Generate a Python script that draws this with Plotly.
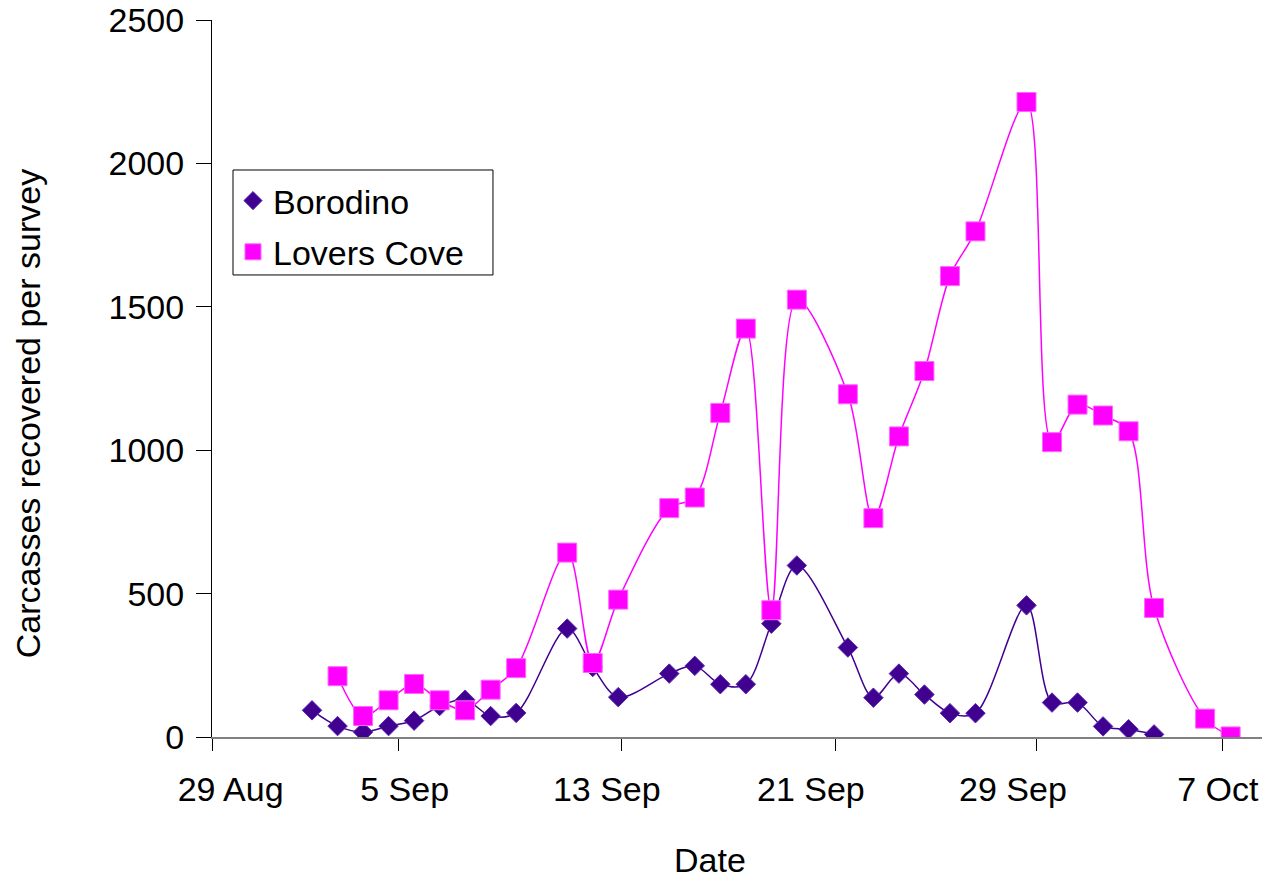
import plotly.graph_objects as go
import pandas as pd

# ---- data ----
borodino_dates = [
    "2004-09-01", "2004-09-02", "2004-09-03", "2004-09-04", "2004-09-05",
    "2004-09-06", "2004-09-07", "2004-09-08", "2004-09-09",
    "2004-09-11", "2004-09-12", "2004-09-13",
    "2004-09-15", "2004-09-16", "2004-09-17", "2004-09-18", "2004-09-19", "2004-09-20",
    "2004-09-22", "2004-09-23", "2004-09-24", "2004-09-25", "2004-09-26", "2004-09-27",
    "2004-09-29", "2004-09-30", "2004-10-01", "2004-10-02", "2004-10-03", "2004-10-04",
]
borodino_values = [
    93, 38, 17, 38, 57, 108, 130, 73, 84,
    378, 244, 139,
    221, 248, 184, 184, 395, 598,
    312, 137, 221, 148, 83, 83,
    459, 120, 120, 37, 27, 9,
]

lovers_dates = [
    "2004-09-02", "2004-09-03", "2004-09-04", "2004-09-05",
    "2004-09-06", "2004-09-07", "2004-09-08", "2004-09-09",
    "2004-09-11", "2004-09-12", "2004-09-13",
    "2004-09-15", "2004-09-16", "2004-09-17", "2004-09-18", "2004-09-19", "2004-09-20",
    "2004-09-22", "2004-09-23", "2004-09-24", "2004-09-25", "2004-09-26", "2004-09-27",
    "2004-09-29", "2004-09-30", "2004-10-01", "2004-10-02", "2004-10-03", "2004-10-04",
    "2004-10-06", "2004-10-07",
]
lovers_values = [
    212, 73, 128, 185, 128, 93, 165, 240,
    643, 258, 479,
    798, 835, 1130, 1424, 442, 1525,
    1195, 763, 1048, 1276, 1607, 1763,
    2214, 1028, 1159, 1121, 1066, 450,
    64, 2,
]

tick_labels = ["29 Aug", "5 Sep", "13 Sep", "21 Sep", "29 Sep", "7 Oct"]
tick_dates = ["2004-08-29", "2004-09-05", "2004-09-13", "2004-09-21", "2004-09-29", "2004-10-07"]
y_ticks = [0, 500, 1000, 1500, 2000, 2500]

# ---- axis layout details (as drawn in the reference) ----
tick_mark_shift = [-0.92, -0.60, 0.14, 0.53, 0.41, -0.30]   # days
tick_label_shift = [-0.19, -0.37, -0.45, -0.45, -0.53, -0.50]  # days


def shifted(dates, shifts):
    return [(pd.Timestamp(d) + pd.Timedelta(days=s)).strftime("%Y-%m-%d %H:%M:%S")
            for d, s in zip(dates, shifts)]


x_range = ["2004-08-28 01:55:00", "2004-10-08 05:30:00"]

BORO = "#400090"
LOVE = "#FF00FF"
FONT = "Liberation Sans, Arial, sans-serif"
FS = 34

fig = go.Figure()

fig.add_trace(go.Scatter(
    x=borodino_dates, y=borodino_values, mode="lines+markers",
    line=dict(color=BORO, width=1.5, shape="spline", smoothing=0.9),
    marker=dict(symbol="diamond", size=15, color=BORO, line=dict(color="#5a2ab0", width=1)),
    name="Borodino", showlegend=False,
))
fig.add_trace(go.Scatter(
    x=lovers_dates, y=lovers_values, mode="lines+markers",
    line=dict(color=LOVE, width=1.5, shape="spline", smoothing=0.9),
    marker=dict(symbol="square", size=19, color=LOVE, line=dict(color="#ff66ff", width=1)),
    name="Lovers Cove", showlegend=False,
))
# legend entries (marker only, as in the reference)
fig.add_trace(go.Scatter(
    x=[None], y=[None], mode="markers", name="Borodino",
    marker=dict(symbol="diamond", size=14, color=BORO, line=dict(color="#5a2ab0", width=1)),
    legendgroup="a",
))
fig.add_trace(go.Scatter(
    x=[None], y=[None], mode="markers", name="Lovers Cove",
    marker=dict(symbol="square", size=19, color=LOVE, line=dict(color="#ff66ff", width=1)),
    legendgroup="b",
))
# empty trace so that the label axis (x2) is drawn
fig.add_trace(go.Scatter(
    x=[None], y=[None], xaxis="x2", yaxis="y", mode="markers",
    showlegend=False, hoverinfo="skip",
))

fig.update_layout(
    width=1276, height=879,
    margin=dict(l=212, r=14, t=20, b=142),
    paper_bgcolor="white", plot_bgcolor="white",
    font=dict(family=FONT, size=FS, color="black"),
    showlegend=True,
    legend=dict(
        x=0.02, y=0.788, xanchor="left", yanchor="top",
        borderwidth=0, bgcolor="rgba(0,0,0,0)",
        font=dict(family=FONT, size=FS, color="black"),
        tracegroupgap=4,
    ),
    shapes=[
        # legend frame
        dict(type="rect", xref="paper", yref="paper",
             x0=0.02, x1=0.2676, y0=0.6444, y1=0.7908,
             line=dict(color="black", width=1), fillcolor="white", layer="above"),
    ],
    xaxis=dict(
        type="date", range=x_range, automargin=False,
        tickmode="array", tickvals=shifted(tick_dates, tick_mark_shift),
        showticklabels=False,
        ticks="outside", ticklen=12, tickcolor="black", tickwidth=1,
        showline=True, linecolor="#808080", linewidth=2,
        showgrid=False, zeroline=False,
    ),
    xaxis2=dict(
        type="date", range=x_range, overlaying="x", anchor="y", side="bottom",
        automargin=False, ticklabeloverflow="allow",
        tickmode="array", tickvals=shifted(tick_dates, tick_label_shift),
        ticktext=tick_labels, ticks="", showline=False,
        showgrid=False, zeroline=False,
        tickfont=dict(family=FONT, size=FS, color="black"),
        ticklabelstandoff=29,
    ),
    yaxis=dict(
        range=[0, 2500], tickmode="array", tickvals=y_ticks, automargin=False,
        ticklabeloverflow="allow",
        ticks="outside", ticklen=15, tickcolor="black", tickwidth=1,
        showline=True, linecolor="black", linewidth=1,
        showgrid=False, zeroline=False,
        tickfont=dict(family=FONT, size=FS, color="black"),
        ticklabelstandoff=5,
    ),
    annotations=[
        dict(text="Date", xref="paper", yref="paper", x=0.474, y=-0.1715,
             xanchor="center", yanchor="middle", showarrow=False,
             font=dict(family=FONT, size=FS, color="black")),
        dict(text="Carcasses recovered per survey", xref="paper", yref="paper",
             x=-0.175, y=0.4505, xanchor="center", yanchor="middle", textangle=-90,
             showarrow=False, font=dict(family=FONT, size=FS, color="black")),
    ],
)

# remove the browser's default 8 px body margin so the figure fills the window
fig.write_html("out.html", config={"displayModeBar": False},
               post_script="document.body.style.margin='0px';")
